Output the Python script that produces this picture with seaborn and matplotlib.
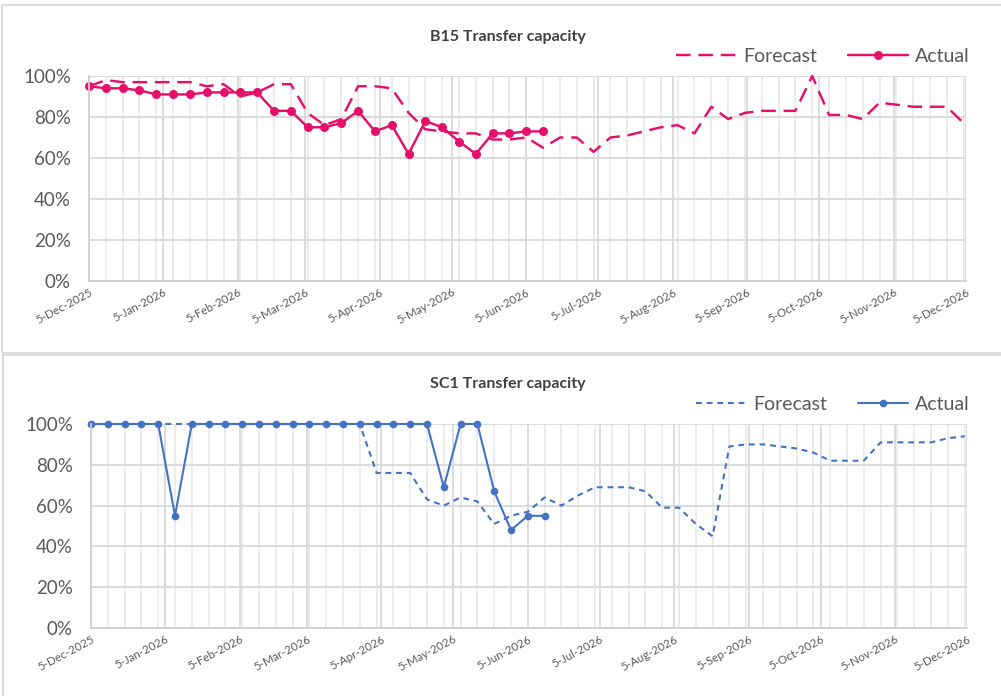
import numpy as np
import pandas as pd
import matplotlib
matplotlib.use("Agg")
import matplotlib.pyplot as plt
import matplotlib.dates as mdates
from matplotlib.ticker import PercentFormatter, FuncFormatter
from matplotlib.patches import Rectangle
import seaborn as sns

# weekly values (percent)
start_date = "2025-12-05"
end_date = "2026-12-05"

b15_forecast = [95, 98, 97, 97, 97, 97, 97, 95, 96, 90, 92, 96, 96, 82, 76, 79, 95, 95, 94, 82,
                74, 73, 72, 72, 69, 69, 70, 65, 70, 70, 63, 70, 71, 73, 75, 76, 72, 85, 79, 82,
                83, 83, 83, 100, 81, 81, 79, 87, 86, 85, 85, 85, 77]
b15_actual = [95, 94, 94, 93, 91, 91, 91, 92, 92, 92, 92, 83, 83, 75, 75, 77, 83, 73, 76, 62,
              78, 75, 68, 62, 72, 72, 73, 73]

sc1_forecast = [100, 100, 100, 100, 100, 100, 100, 100, 100, 100, 100, 100, 100, 100, 100, 100, 100, 76, 76, 76,
                63, 60, 64, 62, 51, 55, 57, 64, 60, 65, 69, 69, 69, 67, 59, 59, 51, 45, 89, 90,
                90, 89, 88, 86, 82, 82, 82, 91, 91, 91, 91, 93, 94]
sc1_actual = [100, 100, 100, 100, 100, 55, 100, 100, 100, 100, 100, 100, 100, 100, 100, 100, 100, 100, 100, 100,
              100, 69, 100, 100, 67, 48, 55, 55]

titles = ["B15 Transfer capacity", "SC1 Transfer capacity"]

W, H = 1001, 696
sns.set_style("white")
plt.rcParams["font.family"] = ["Lato", "DejaVu Sans"]

weeks = pd.date_range(start_date, periods=len(b15_forecast), freq="7D")


def make_frame(forecast, actual):
    df = pd.DataFrame({"date": weeks, "forecast": np.array(forecast) / 100})
    df["actual"] = np.nan
    df.loc[: len(actual) - 1, "actual"] = np.array(actual) / 100
    return df


fig = plt.figure(figsize=(W / 100, H / 100), dpi=100)

# chart boxes like the excel frames
fig.patches.append(Rectangle((2 / W, 1 - 353 / H), 1.0, (353 - 5) / H, transform=fig.transFigure,
                             fill=False, ec="#d9d9d9", lw=1.3))
fig.patches.append(Rectangle((3 / W, -0.1), 1.0, 0.1 + 1 - 355 / H, transform=fig.transFigure,
                             fill=False, ec="#d9d9d9", lw=1.3))

panels = [
    dict(fc=b15_forecast, ac=b15_actual, color="#E5106A", box=(89, 76, 966, 281),
         dashes=(6, 3.2), lw=1.75, ms=6.5, title_xy=(508, 37), leg_y=56, hl=3.1),
    dict(fc=sc1_forecast, ac=sc1_actual, color="#4472C4", box=(91, 424, 967, 628),
         dashes=(2.8, 2.3), lw=1.5, ms=5.5, title_xy=(508, 384), leg_y=404, hl=2.6),
]

tick_fmt = FuncFormatter(lambda v, pos: f"{mdates.num2date(v).day}-{mdates.num2date(v):%b-%Y}")

for i, p in enumerate(panels):
    x0, y0, x1, y1 = p["box"]
    ax = fig.add_axes([x0 / W, 1 - y1 / H, (x1 - x0) / W, (y1 - y0) / H])
    df = make_frame(p["fc"], p["ac"])

    sns.lineplot(data=df, x="date", y="forecast", ax=ax, color=p["color"], lw=p["lw"],
                 label="Forecast", clip_on=False)
    ax.lines[-1].set_dashes(p["dashes"])
    sns.lineplot(data=df.dropna(), x="date", y="actual", ax=ax, color=p["color"], lw=p["lw"],
                 marker="o", markersize=p["ms"], markeredgewidth=0, label="Actual", clip_on=False)

    ax.set_xlim(pd.Timestamp(start_date), pd.Timestamp(end_date))
    ax.set_ylim(0, 1)
    ax.set_yticks(np.arange(0, 1.01, 0.2))
    ax.yaxis.set_major_formatter(PercentFormatter(1.0, decimals=0))
    ax.xaxis.set_major_locator(mdates.MonthLocator(bymonthday=5))
    ax.xaxis.set_major_formatter(tick_fmt)
    ax.set_xticks(pd.date_range(start_date, end_date, freq="7D"), minor=True)

    ax.grid(which="major", axis="both", color="#d9d9d9", lw=1.3)
    ax.grid(which="minor", axis="x", color="#ebebeb", lw=1.3)
    ax.set_axisbelow(True)
    for s in ["top", "right"]:
        ax.spines[s].set_visible(False)
    for s in ["left", "bottom"]:
        ax.spines[s].set_color("#d0d0d0")
        ax.spines[s].set_linewidth(1.3)

    ax.tick_params(axis="both", which="both", length=0)
    ax.tick_params(axis="y", labelsize=13.5, labelcolor="#595959", pad=13)
    ax.tick_params(axis="x", labelsize=8.3, labelcolor="#595959", pad=4)
    for lbl in ax.get_xticklabels():
        lbl.set_rotation(28)
        lbl.set_ha("right")
        lbl.set_va("top")
        lbl.set_rotation_mode("anchor")
    ax.set_xlabel("")
    ax.set_ylabel("")

    fig.text(p["title_xy"][0] / W, 1 - p["title_xy"][1] / H, titles[i], ha="center", va="center",
             fontsize=11.5, fontweight="bold", color="#404040")

    leg = ax.legend(loc="center right", bbox_to_anchor=(970 / W, 1 - p["leg_y"] / H),
                    bbox_transform=fig.transFigure, ncol=2, frameon=False, fontsize=14,
                    handlelength=p["hl"], handletextpad=0.35, columnspacing=1.6, numpoints=1,
                    borderaxespad=0, borderpad=0)
    for t in leg.get_texts():
        t.set_color("#595959")

plt.savefig("out.png", dpi=100)
